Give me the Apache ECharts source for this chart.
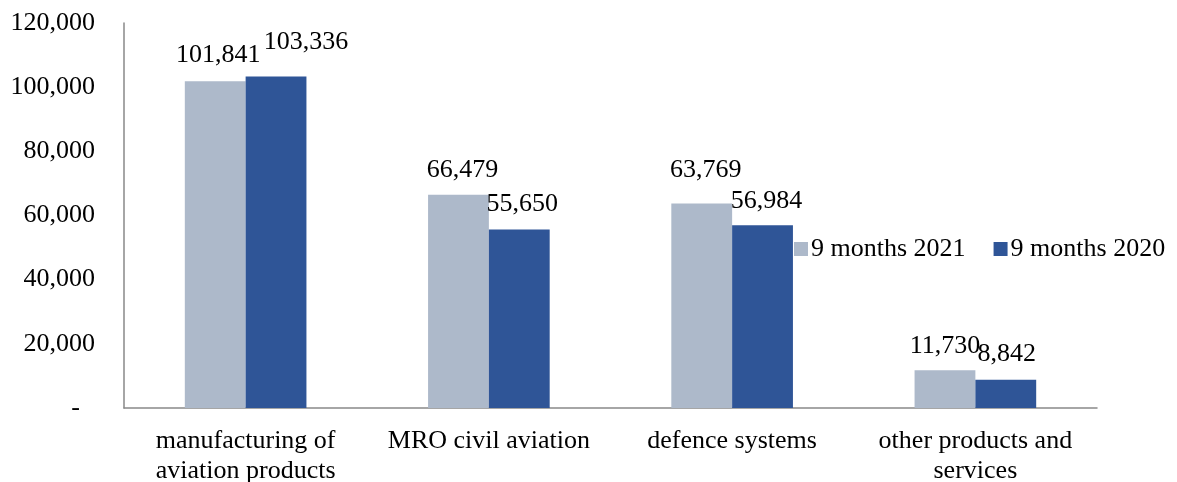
<!DOCTYPE html>
<html>
<head>
<meta charset="utf-8">
<script src="https://cdn.jsdelivr.net/npm/echarts@6/dist/echarts.min.js"></script>
<style>
html,body{margin:0;padding:0;background:#fff;}
#chart{width:1177px;height:482px;}
</style>
</head>
<body>
<div id="chart"></div>
<script>
const categories = ['manufacturing of\naviation products', 'MRO civil aviation', 'defence systems', 'other products and\nservices'];
const seriesNames = ['9 months 2021', '9 months 2020'];
const values2021 = [101841, 66479, 63769, 11730];
const values2020 = [103336, 55650, 56984, 8842];
const yTicks = { min: 0, max: 120000, interval: 20000 };

// label nudges (layout only, to mimic hand-placed labels)
const offs2021 = [[3,-8],[4,-7],[4,-15],[0,-6]];
const offs2020 = [[30,-16],[3,-7],[4,-6],[1,-7]];

const FONT = 'Liberation Serif';
const fmt = v => v.toLocaleString('en-US');

function mkData(vals, offs) {
  return vals.map((v, i) => ({ value: v, label: { offset: offs[i] } }));
}

const chart = echarts.init(document.getElementById('chart'));
chart.setOption({
  animation: false,
  textStyle: { fontFamily: FONT },
  grid: { left: 124, right: 80, top: 23, bottom: 74, containLabel: false, outerBoundsMode: 'none' },
  legend: {
    data: seriesNames,
    left: 789, top: 231,
    itemWidth: 14, itemHeight: 14, itemGap: 28,
    icon: 'rect',
    textStyle: { fontFamily: FONT, fontSize: 26, color: '#000', padding: [0,0,0,-2] }
  },
  xAxis: {
    type: 'category',
    data: categories,
    axisLine: { lineStyle: { color: '#898989', width: 1.5 } },
    axisTick: { show: false },
    axisLabel: { fontFamily: FONT, fontSize: 26, color: '#000', lineHeight: 30, margin: 18, interval: 0 }
  },
  yAxis: {
    type: 'value',
    min: yTicks.min, max: yTicks.max, interval: yTicks.interval,
    splitLine: { show: false },
    axisLine: { show: true, lineStyle: { color: '#898989', width: 1.5 } },
    axisTick: { show: false },
    axisLabel: {
      fontFamily: FONT, fontSize: 26, color: '#000', margin: 29,
      formatter: v => v === 0 ? '{d|-}' : fmt(v),
      rich: { d: { fontFamily: FONT, fontSize: 26, color: '#000', padding: [0, 15, 0, 0] } }
    }
  },
  series: [
    {
      name: seriesNames[0], type: 'bar', data: mkData(values2021, offs2021),
      itemStyle: { color: '#ADB9CA' },
      barGap: '0%', barCategoryGap: '50%',
      label: { show: true, position: 'top', distance: 5, fontFamily: FONT, fontSize: 26, color: '#000', formatter: p => fmt(p.value) }
    },
    {
      name: seriesNames[1], type: 'bar', data: mkData(values2020, offs2020),
      itemStyle: { color: '#2F5597' },
      barGap: '0%', barCategoryGap: '50%',
      label: { show: true, position: 'top', distance: 5, fontFamily: FONT, fontSize: 26, color: '#000', formatter: p => fmt(p.value) }
    }
  ]
});
</script>
</body>
</html>
